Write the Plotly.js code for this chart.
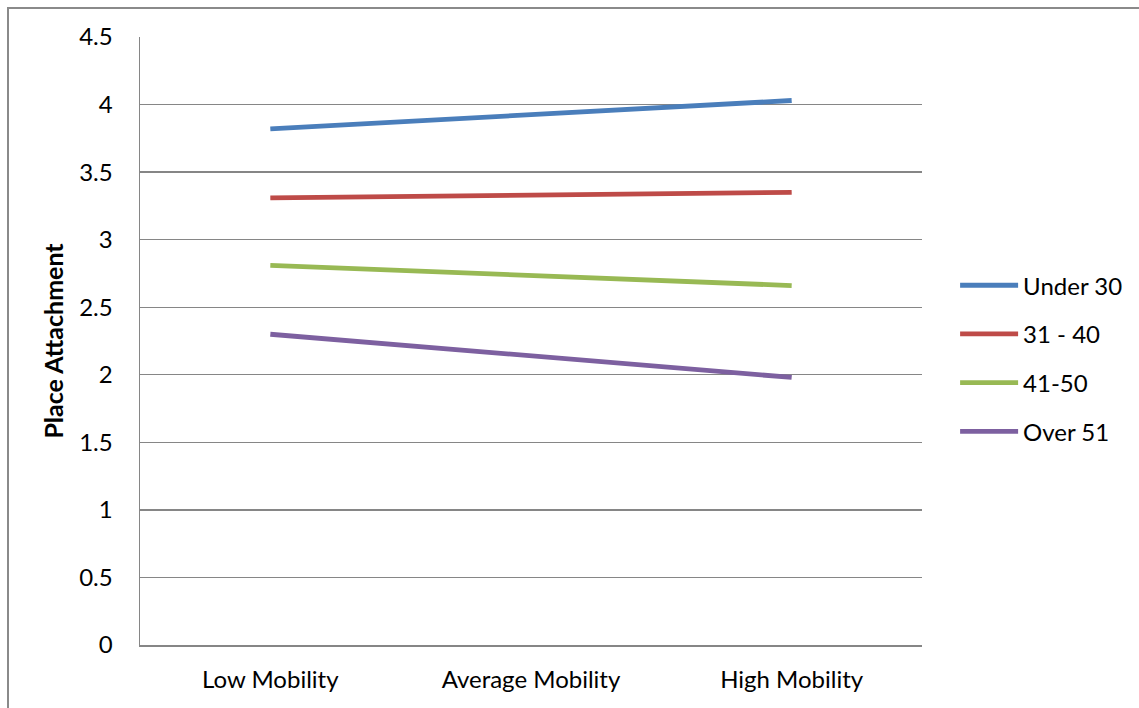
<!DOCTYPE html>
<html>
<head>
<meta charset="utf-8">
<script src="https://cdn.plot.ly/plotly-3.0.1.min.js"></script>
<style>
  html, body { margin: 0; padding: 0; background: #fff; }
  #wrap { position: relative; width: 1139px; height: 708px; overflow: hidden; }
  #frame { position: absolute; left: 7px; top: 7px; width: 1200px; height: 800px;
           border-left: 2px solid #8a8a8a; border-top: 2px solid #8a8a8a; pointer-events: none; }
  #chart { position: absolute; left: 0; top: 0; width: 1139px; height: 708px; }
</style>
</head>
<body>
<div id="wrap">
  <div id="chart"></div>
  <div id="frame"></div>
</div>
<script>
// Mobility levels along the x axis
const categories = ["Low Mobility", "Average Mobility", "High Mobility"];

// Mean place attachment by age group (no value at the middle level; line joins the ends)
const under30 = [3.82, null, 4.03];
const age31to40 = [3.31, null, 3.35];
const age41to50 = [2.81, null, 2.66];
const over51 = [2.30, null, 1.98];

const seriesNames = ["Under 30", "31 - 40", "41-50", "Over 51"];
const seriesColors = ["#4A7EBB", "#BE4B48", "#98B954", "#7D60A0"];
const seriesValues = [under30, age31to40, age41to50, over51];

const yTicks = [0, 0.5, 1, 1.5, 2, 2.5, 3, 3.5, 4, 4.5];

const traces = seriesValues.map((vals, i) => ({
  type: "scatter",
  mode: "lines",
  name: seriesNames[i],
  x: categories,
  y: vals,
  connectgaps: true,
  legendgroup: "g" + i,
  line: { color: seriesColors[i], width: 4.8 }
}));

const font = "Lato, 'Open Sans', sans-serif";
const fs = 24;

const layout = {
  width: 1139,
  height: 708,
  margin: { l: 140, r: 216, t: 37, b: 63 },
  paper_bgcolor: "rgba(0,0,0,0)",
  plot_bgcolor: "#fff",
  font: { family: font, size: fs, color: "#000" },
  showlegend: true,
  legend: {
    x: 1.041, xanchor: "left",
    y: 0.471, yanchor: "middle",
    traceorder: "grouped",
    tracegroupgap: 14.5,
    itemwidth: 58,
    font: { family: font, size: fs, color: "#000" },
    bgcolor: "rgba(0,0,0,0)"
  },
  xaxis: {
    type: "category",
    categoryorder: "array",
    categoryarray: categories,
    range: [-0.5, 2.5],
    showgrid: false,
    showline: true,
    linecolor: "#868686",
    linewidth: 1.5,
    ticks: "",
    ticklabelstandoff: 13,
    tickfont: { family: font, size: fs, color: "#000" },
    zeroline: false,
    fixedrange: true
  },
  yaxis: {
    range: [0, 4.5],
    tickvals: yTicks,
    ticktext: yTicks.map(String),
    showgrid: true,
    gridcolor: "#868686",
    gridwidth: 1.3,
    showline: true,
    linecolor: "#868686",
    linewidth: 1.5,
    ticks: "",
    ticklabelstandoff: 21,
    tickfont: { family: font, size: fs, color: "#000" },
    zeroline: false,
    title: {
      text: "<b>Place Attachment</b>",
      font: { family: font, size: 25, color: "#000" },
      standoff: 8
    },
    fixedrange: true
  }
};

Plotly.newPlot("chart", traces, layout, { displayModeBar: false, staticPlot: true });
</script>
</body>
</html>
